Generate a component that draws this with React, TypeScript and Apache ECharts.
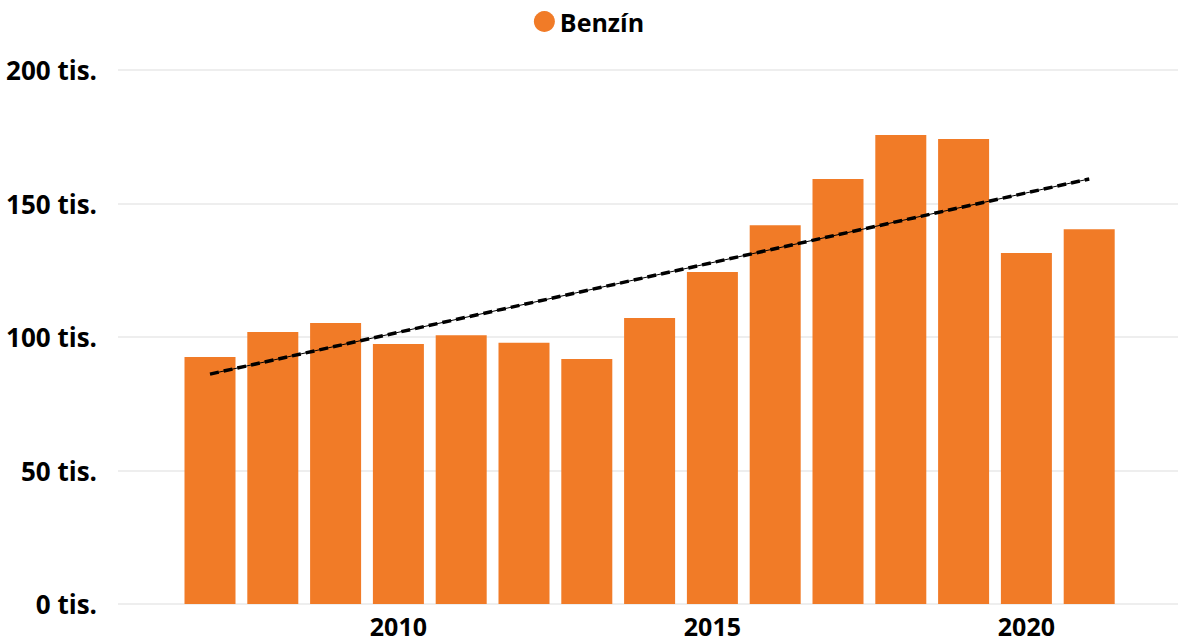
import React, { useEffect, useRef } from "react";
import * as echarts from "echarts";

const years = ["2007","2008","2009","2010","2011","2012","2013","2014","2015","2016","2017","2018","2019","2020","2021"];
const benzin = [92500, 101900, 105200, 97400, 100700, 97800, 91800, 107100, 124300, 141900, 159200, 175700, 174200, 131500, 140400];
const trendEnds = [86100, 159200];
const shownYearLabels = ["2010", "2015", "2020"];
const yTicks = [0, 50000, 100000, 150000, 200000];

const ORANGE = "#F17B27";
const FONT = "'Open Sans', 'Noto Sans', sans-serif";

export default function App() {
  const ref = useRef<HTMLDivElement>(null);
  useEffect(() => {
    if (!ref.current) return;
    const chart = echarts.init(ref.current, null, { renderer: "svg" });
    const trend = years.map((_, i) => (i === 0 ? trendEnds[0] : i === years.length - 1 ? trendEnds[1] : null));
    chart.setOption({
      animation: false,
      textStyle: { fontFamily: FONT },
      legend: {
        data: [{ name: "Benzín", icon: "circle" }],
        top: 4,
        left: "center",
        itemWidth: 21,
        itemHeight: 21,
        itemGap: 4,
        textStyle: { fontSize: 25, fontWeight: "bold", color: "#000", fontFamily: FONT },
      },
      grid: [
        { left: 118, right: 0, top: 70, bottom: 38 },
        { left: 178.6, right: 57.4, top: 70, bottom: 38 },
      ],
      xAxis: [
        { type: "category", gridIndex: 0, data: years, show: false },
        {
          type: "category",
          gridIndex: 1,
          data: years,
          axisLine: { show: false },
          axisTick: { show: false },
          axisLabel: {
            interval: (i: number, v: string) => shownYearLabels.includes(v),
            fontSize: 25,
            lineHeight: 22,
            fontWeight: "bold",
            color: "#000",
            margin: 11,
            fontFamily: FONT,
          },
        },
      ],
      yAxis: [
        {
          type: "value",
          gridIndex: 0,
          min: 0,
          max: 200000,
          interval: 50000,
          axisLabel: {
            formatter: (v: number) => (yTicks.includes(v) ? `${v / 1000} tis.` : ""),
            fontSize: 26,
            fontWeight: "bold",
            color: "#000",
            margin: 21,
            fontFamily: FONT,
          },
          splitLine: { lineStyle: { color: "#E8E8E8", width: 1.5 } },
          axisLine: { show: false },
          axisTick: { show: false },
        },
        {
          type: "value",
          gridIndex: 1,
          min: 0,
          max: 200000,
          interval: 50000,
          show: false,
          splitLine: { show: false },
        },
      ],
      series: [
        {
          name: "Benzín",
          type: "bar",
          xAxisIndex: 1,
          yAxisIndex: 1,
          data: benzin,
          barWidth: 51,
          itemStyle: { color: ORANGE },
        },
        {
          name: "trend",
          type: "line",
          xAxisIndex: 1,
          yAxisIndex: 1,
          data: trend,
          connectNulls: true,
          symbol: "none",
          lineStyle: { color: "#000", width: 1 },
          z: 5,
        },
        {
          name: "trend2",
          type: "line",
          xAxisIndex: 1,
          yAxisIndex: 1,
          data: trend,
          connectNulls: true,
          symbol: "none",
          lineStyle: { color: "#000", width: 3.5, type: [9, 5] },
          z: 6,
        },
      ],
    });
    return () => chart.dispose();
  }, []);
  return <div ref={ref} style={{ width: 1178, height: 642, position: "absolute", left: 0, top: 0 }} />;
}
